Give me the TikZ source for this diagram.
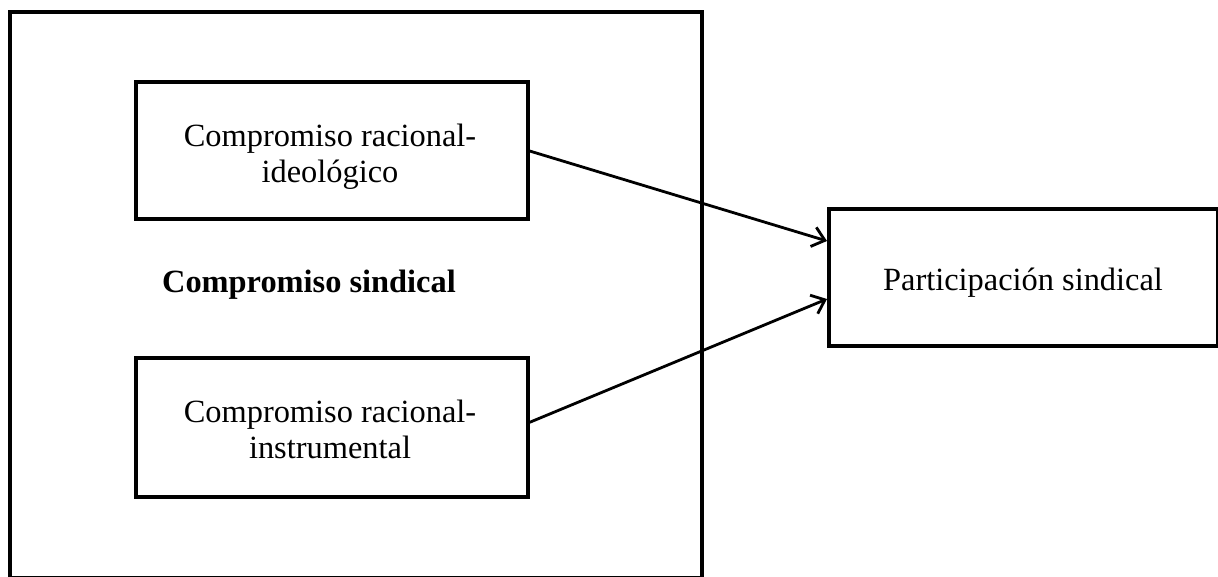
\documentclass[tikz,border=0pt]{standalone}
\usepackage{fontspec}
\setmainfont{Liberation Serif}
\usetikzlibrary{arrows.meta}
\begin{document}
\begin{tikzpicture}[x=1pt,y=-1pt,
  box/.style={draw, rectangle, line width=4pt, inner sep=0pt, outer sep=0pt},
  txt/.style={font=\fontsize{32.4}{35.5}\selectfont, inner sep=0pt, align=center},
  link/.style={line width=2.8pt, -{Straight Barb[length=12pt,width=20pt]}}]
\useasboundingbox (0,0) rectangle (1218,576);
% outer frame: the union commitment block
\node[box, minimum width=692pt, minimum height=566pt] (frame) at (356,295) {};
% the two commitment components
\node[box, minimum width=392pt, minimum height=137pt] (ideo) at (332,150.5) {};
\node[box, minimum width=392pt, minimum height=139pt] (instr) at (332,427.5) {};
% outcome
\node[box, minimum width=389pt, minimum height=137pt] (part) at (1023.5,277.5) {};
% texts (base anchor sits on the last line)
\node[txt, anchor=base] (ideoT) at (330,182) {Compromiso racional-\\ideológico};
\node[txt, anchor=base] (instrT) at (330,458) {Compromiso racional-\\instrumental};
\node[txt, anchor=base, font=\fontsize{32.4}{35.5}\selectfont\bfseries] (frameT) at (309,292) {Compromiso sindical};
\node[txt, anchor=base] (partT) at (1023,290) {Participación sindical};
% arrow ends on the left side of the outcome box
\coordinate (in1) at (827,241);
\coordinate (in2) at (827,299);
\draw[link] (ideo.east) -- (in1);
\draw[link] ([yshift=4.5pt]instr.east) -- (in2);
\end{tikzpicture}
\end{document}
